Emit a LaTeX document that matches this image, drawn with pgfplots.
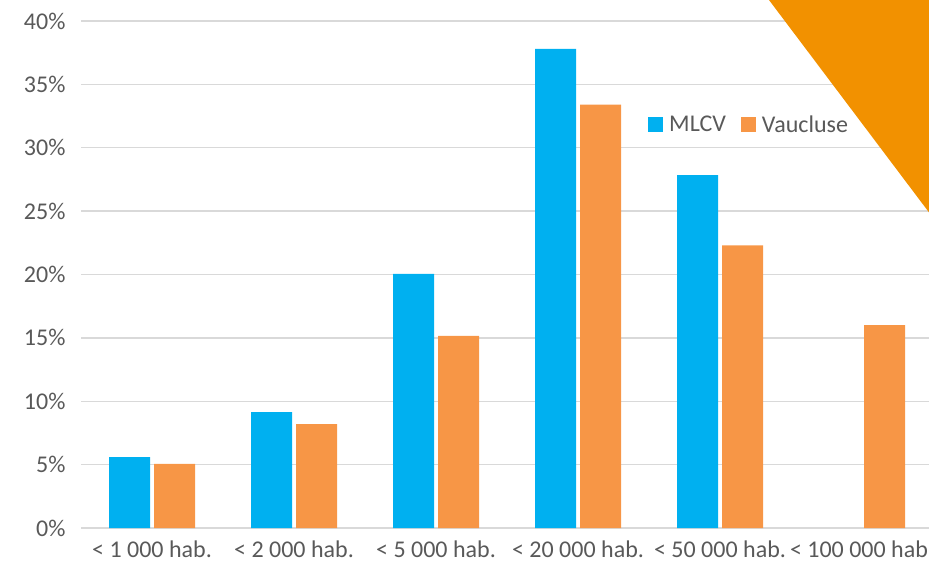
\documentclass[border=0pt]{standalone}
\usepackage{pgfplots}
\pgfplotsset{compat=1.18}
\usepackage{fontspec}
\setmainfont{Carlito}
\definecolor{mblue}{HTML}{00B0F0}
\definecolor{morange}{HTML}{F79646}
\definecolor{tri}{HTML}{F29100}
\definecolor{txt}{HTML}{595959}
\definecolor{grid}{HTML}{D9D9D9}
\begin{document}
\begin{tikzpicture}
\begin{axis}[
  at={(81pt,40pt)}, anchor=south west,
  width=852pt, height=507pt, scale only axis,
  xmin=-0.5, xmax=5.5, ymin=0, ymax=40,
  ybar, bar width=41pt,
  xtick={0,1,2,3,4,5},
  xticklabels={< 1 000 hab.,< 2 000 hab.,< 5 000 hab.,< 20 000 hab.,< 50 000 hab.,< 100 000 hab.},
  ytick={0,5,10,15,20,25,30,35,40},
  yticklabels={0\%,5\%,10\%,15\%,20\%,25\%,30\%,35\%,40\%},
  xmajorgrids=false, ymajorgrids=true,
  y grid style={grid, line width=1.4pt},
  axis line style={draw=none},
  tick style={draw=none},
  major tick length=0pt,
  tick label style={font=\fontsize{24}{28}\selectfont, text=txt},
  yticklabel style={xshift=-12pt},
  xticklabel style={yshift=-9pt},
  legend style={at={(0.662,0.795)}, anchor=west, draw=none, fill=none,
    font=\fontsize{24}{28}\selectfont, text=txt, legend columns=2,
    /tikz/every even column/.append style={column sep=13pt},
    /tikz/every odd column/.append style={column sep=4pt}},
  legend image code/.code={\fill[#1] (0pt,-7.5pt) rectangle (15pt,7.5pt);},
]
\addplot[fill=mblue, draw=none, bar shift=-22.5pt] coordinates {(0,5.6) (1,9.15) (2,20.05) (3,37.8) (4,27.85)};
\addplot[fill=morange, draw=none, bar shift=22.5pt] coordinates {(0,5.05) (1,8.2) (2,15.15) (3,33.4) (4,22.3) (5,16.0)};
\legend{MLCV,Vaucluse}
\end{axis}
\fill[tri] (769pt,568pt) -- (940pt,568pt) -- (940pt,341pt) -- cycle;
\pgfresetboundingbox
\useasboundingbox (0,0) rectangle (929pt,568pt);
\end{tikzpicture}
\end{document}
